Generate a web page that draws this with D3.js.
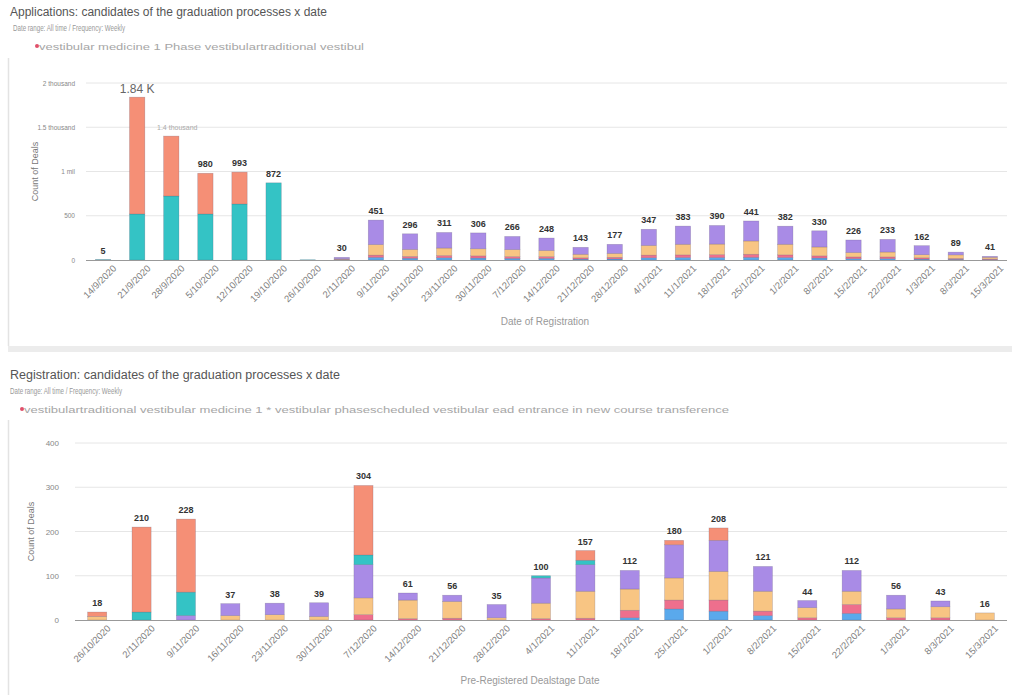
<!DOCTYPE html>
<html>
<head>
<meta charset="utf-8">
<script src="https://cdn.jsdelivr.net/npm/d3@7"></script>
<style>
  html, body { margin: 0; padding: 0; background: #fff; }
  svg { display: block; font-family: "Liberation Sans", Arial, sans-serif; }
</style>
</head>
<body>
<svg id="chart" width="1012" height="695"></svg>
<script>
// ---- Applications per week ----
const appDates = ["14/9/2020","21/9/2020","28/9/2020","5/10/2020","12/10/2020","19/10/2020","26/10/2020",
  "2/11/2020","9/11/2020","16/11/2020","23/11/2020","30/11/2020","7/12/2020","14/12/2020","21/12/2020",
  "28/12/2020","4/1/2021","11/1/2021","18/1/2021","25/1/2021","1/2/2021","8/2/2021","15/2/2021",
  "22/2/2021","1/3/2021","8/3/2021","15/3/2021"];
const appBlue   = [0,0,0,0,0,0,0, 4,30,20,25,22,18,18,10,12,25,28,28,30,28,22,15,15,10,8,5];
const appPink   = [0,0,0,0,0,0,0, 4,25,20,25,25,20,20,15,18,30,30,32,35,30,25,20,20,15,10,6];
const appYellow = [0,0,0,0,0,0,0, 6,120,80,85,80,80,70,40,45,110,120,120,150,120,100,50,55,35,40,20];
const appPurple = [0,0,0,0,0,0,0, 16,276,176,176,179,148,140,78,102,182,205,210,226,204,183,141,143,102,31,10];
const appTeal   = [5,520,723,520,633,872,3, 0,0,0,0,0,0,0,0,0,0,0,0,0,0,0,0,0,0,0,0];
const appOrange = [0,1320,677,460,360,0,0, 0,0,0,0,0,0,0,0,0,0,0,0,0,0,0,0,0,0,0,0];
const appLabels = ["5","1.84 K","1.4 thousand","980","993","872","","30","451","296","311","306","266","248",
  "143","177","347","383","390","441","382","330","226","233","162","89","41"];
const appTicks = [0, 500, 1000, 1500, 2000];
const appTickLabels = ["0","500","1 mil","1.5 thousand","2 thousand"];

// ---- Registrations per week ----
const regDates = ["26/10/2020","2/11/2020","9/11/2020","16/11/2020","23/11/2020","30/11/2020","7/12/2020",
  "14/12/2020","21/12/2020","28/12/2020","4/1/2021","11/1/2021","18/1/2021","25/1/2021","1/2/2021",
  "8/2/2021","15/2/2021","22/2/2021","1/3/2021","8/3/2021","15/3/2021"];
const regBlue   = [0,0,0,0,0,0,0,0,0,0,0,0,5,25,20,10,0,15,0,0,0];
const regPink   = [0,0,0,0,0,0,12,3,4,0,3,4,17,20,25,10,5,20,5,5,0];
const regYellow = [8,0,0,10,12,8,38,42,38,5,35,61,48,50,65,45,23,30,20,25,16];
const regPurple = [0,0,10,27,26,31,75,16,14,30,57,60,42,75,70,56,16,47,31,13,0];
const regTeal   = [0,18,53,0,0,0,22,0,0,0,5,10,0,0,0,0,0,0,0,0,0];
const regOrange = [10,192,165,0,0,0,157,0,0,0,0,22,0,10,28,0,0,0,0,0,0];
const regLabels = ["18","210","228","37","38","39","304","61","56","35","100","157","112","180","208",
  "121","44","112","56","43","16"];
const regTicks = [0, 100, 200, 300, 400];

const seriesKeys = ["blue","pink","yellow","purple","teal","orange"];
const colors = {blue:"#5aa9ec", pink:"#ee6f8d", yellow:"#f8c583", purple:"#a98be6", teal:"#34c3c5", orange:"#f58f76"};

const svg = d3.select("#chart");

function rows(dates, arrs) {
  return dates.map((d, i) => {
    const r = {date: d};
    seriesKeys.forEach((k, j) => r[k] = arrs[j][i]);
    return r;
  });
}

function panel(cfg) {
  const g = svg.append("g");
  // frame
  g.append("line").attr("x1", 8.5).attr("x2", 8.5).attr("y1", cfg.frameTop).attr("y2", cfg.frameBottom)
    .attr("stroke", "#e3e3e3").attr("stroke-width", 1.5);
  if (cfg.bandY != null) {
    g.append("rect").attr("x", 8).attr("y", cfg.bandY).attr("width", 1004).attr("height", 6).attr("fill", "#ececec");
  }
  // headings
  g.append("text").attr("x", 10).attr("y", cfg.titleY).attr("font-size", 12.5).attr("fill", "#555")
    .attr("textLength", cfg.titleLen).attr("lengthAdjust", "spacingAndGlyphs")
    .text(cfg.title);
  g.append("text").attr("x", cfg.subX).attr("y", cfg.titleY + 15).attr("font-size", 9).attr("fill", "#999")
    .attr("textLength", 112).attr("lengthAdjust", "spacingAndGlyphs")
    .text("Date range: All time / Frequency: Weekly");
  g.append("circle").attr("cx", cfg.legendX).attr("cy", cfg.titleY + 30).attr("r", 2).attr("fill", "#e0506a");
  g.append("text").attr("x", cfg.legendX + 2).attr("y", cfg.titleY + 33.5).attr("font-size", 9).attr("fill", "#a6a6a6")
    .attr("textLength", cfg.legendLen).attr("lengthAdjust", "spacingAndGlyphs")
    .text(cfg.legend);

  const x = d3.scaleBand().domain(cfg.dates).range([cfg.x0, cfg.x1]).paddingInner(cfg.pad).paddingOuter(cfg.pad / 2);
  const y = d3.scaleLinear().domain([0, cfg.ticks[cfg.ticks.length - 1]]).range([cfg.y0, cfg.yTop]);

  // grid
  g.append("g").selectAll("line").data(cfg.ticks.slice(1)).join("line")
    .attr("x1", cfg.x0).attr("x2", cfg.x1).attr("y1", d => y(d)).attr("y2", d => y(d))
    .attr("stroke", "#e6e6e6").attr("stroke-width", 1);

  // y axis labels
  const ya = g.append("g").attr("transform", `translate(${cfg.yLabelX},0)`)
    .call(d3.axisLeft(y).tickValues(cfg.ticks).tickSize(0).tickFormat((d, i) => cfg.tickLabels ? cfg.tickLabels[i] : d));
  ya.select(".domain").remove();
  ya.selectAll("text").attr("font-size", cfg.yFont).attr("fill", "#888").attr("font-family", "Liberation Sans, Arial");

  g.append("text").attr("transform", `translate(${cfg.yTitleX},${(cfg.y0 + cfg.yTop) / 2}) rotate(-90)`)
    .attr("text-anchor", "middle").attr("font-size", 9).attr("fill", "#777").text("Count of Deals");

  // bars
  const stack = d3.stack().keys(seriesKeys)(cfg.data);
  g.append("g").selectAll("g").data(stack).join("g").attr("fill", s => colors[s.key])
    .selectAll("rect").data(s => s.filter(d => d[1] > d[0])).join("rect")
    .attr("x", d => x(d.data.date)).attr("width", x.bandwidth())
    .attr("y", d => y(d[1])).attr("height", d => y(d[0]) - y(d[1]))
    .attr("stroke", "rgba(90,80,110,0.35)").attr("stroke-width", 0.6);

  // baseline
  g.append("line").attr("x1", cfg.x0).attr("x2", cfg.x1).attr("y1", cfg.y0 + 0.5).attr("y2", cfg.y0 + 0.5)
    .attr("stroke", "#999").attr("stroke-width", 1.2);

  // x axis
  const xa = g.append("g").attr("transform", `translate(0,${cfg.y0})`)
    .call(d3.axisBottom(x).tickSize(0).tickPadding(6));
  xa.select(".domain").remove();
  xa.selectAll("text").attr("font-size", 9.5).attr("fill", "#808080").attr("font-family", "Liberation Sans, Arial")
    .attr("text-anchor", "end").attr("transform", "translate(5,0) rotate(-45)");

  g.append("text").attr("x", cfg.xTitleX).attr("y", cfg.xTitleY).attr("text-anchor", "middle")
    .attr("font-size", 10).attr("fill", "#999").text(cfg.xTitle);

  // value labels
  g.append("g").selectAll("text").data(cfg.data).join("text")
    .attr("x", d => x(d.date) + x.bandwidth() / 2)
    .attr("y", (d, i) => y(seriesKeys.reduce((s, k) => s + d[k], 0)) - 6)
    .attr("text-anchor", "middle")
    .each(function (d, i) {
      const t = d3.select(this);
      const lab = cfg.labels[i];
      if (lab.includes("K")) {
        t.attr("font-size", 12).attr("fill", "#666").attr("font-weight", "normal").attr("dy", 2);
      } else if (lab.includes("thousand")) {
        t.attr("font-size", 7).attr("fill", "#aaa").attr("font-weight", "normal").attr("dx", 6);
      } else {
        t.attr("font-size", 9).attr("fill", "#333").attr("font-weight", "bold");
      }
      t.text(lab);
    });
}

panel({
  title: "Applications: candidates of the graduation processes x date",
  legend: "vestibular medicine 1 Phase vestibulartraditional vestibul",
  titleY: 16, titleLen: 317, subX: 13, legendX: 37, legendLen: 325,
  frameTop: 58, frameBottom: 346, bandY: 346,
  dates: appDates, data: rows(appDates, [appBlue, appPink, appYellow, appPurple, appTeal, appOrange]),
  labels: appLabels, ticks: appTicks, tickLabels: appTickLabels, yFont: 6.5, yLabelX: 78,
  x0: 86, x1: 1007, pad: 0.55, y0: 260, yTop: 83, yTitleX: 38,
  xTitle: "Date of Registration", xTitleX: 545, xTitleY: 325
});

panel({
  title: "Registration: candidates of the graduation processes x date",
  legend: "vestibulartraditional vestibular medicine 1 * vestibular phasescheduled vestibular ead entrance in new course transference",
  titleY: 379, titleLen: 330, subX: 10, legendX: 22, legendLen: 705,
  frameTop: 420, frameBottom: 695, bandY: null,
  dates: regDates, data: rows(regDates, [regBlue, regPink, regYellow, regPurple, regTeal, regOrange]),
  labels: regLabels, ticks: regTicks, tickLabels: null, yFont: 8, yLabelX: 62,
  x0: 75, x1: 1007, pad: 0.57, y0: 620, yTop: 443, yTitleX: 34,
  xTitle: "Pre-Registered Dealstage Date", xTitleX: 530, xTitleY: 684
});
</script>
</body>
</html>
